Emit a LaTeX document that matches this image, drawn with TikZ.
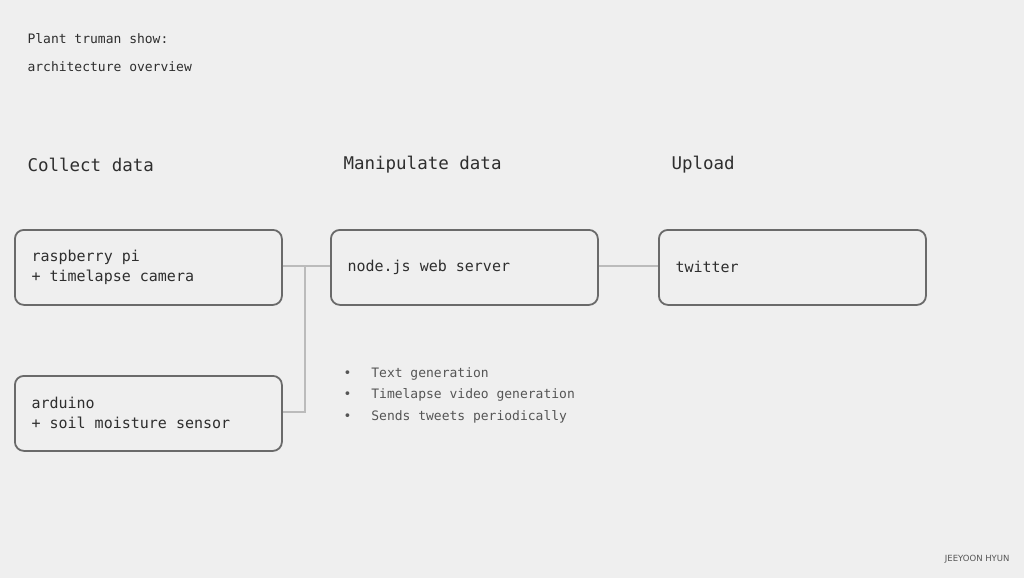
\documentclass[tikz,border=0pt]{standalone}
\usepackage{fontspec}
\setmonofont{DejaVu Sans Mono}
\setsansfont{DejaVu Sans}
\definecolor{bg}{HTML}{EFEFEF}
\definecolor{bord}{HTML}{6A6A6A}
\definecolor{conn}{HTML}{BBBBBB}
\definecolor{txt}{HTML}{2E2E2E}
\definecolor{txt2}{HTML}{555555}
\begin{document}
\begin{tikzpicture}[x=1pt,y=-1pt,
  box/.style={draw=bord,line width=1.8pt,rounded corners=9pt,fill=bg,minimum width=267pt,minimum height=75pt,anchor=north west,inner sep=0pt},
  btxt/.style={font=\ttfamily\fontsize{15}{20}\selectfont,text=txt,anchor=west,align=left},
  conn/.style={draw=conn,line width=2.5pt}]
\fill[bg] (0,0) rectangle (1024,578);
\useasboundingbox (0,0) rectangle (1024,578);
\node[anchor=west,font=\ttfamily\fontsize{13}{16}\selectfont,text=txt] (t1) at (24,39) {Plant truman show:};
\node[anchor=west,font=\ttfamily\fontsize{13}{16}\selectfont,text=txt] (t2) at (24,67) {architecture overview};
\node[anchor=west,font=\ttfamily\fontsize{17.5}{20}\selectfont,text=txt] (h1) at (24,165) {Collect data};
\node[anchor=west,font=\ttfamily\fontsize{17.5}{20}\selectfont,text=txt] (h2) at (340,165) {Manipulate data};
\node[anchor=west,font=\ttfamily\fontsize{17.5}{20}\selectfont,text=txt] (h3) at (668,165) {Upload};
\node[box] (b1) at (14,229) {};
\node[box] (b2) at (330,229) {};
\node[box] (b3) at (658,229) {};
\node[box] (b4) at (14,375) {};
\node[btxt] at (28,267) {raspberry pi\\+ timelapse camera};
\node[btxt] at (344,267) {node.js web server};
\node[btxt] at (672,267) {twitter};
\node[btxt] at (28,413) {arduino\\+ soil moisture sensor};
\coordinate (j) at (305,266);
\coordinate (k) at (305,412);
\draw[conn] (b1.east |- j) -- (b2.west |- j);
\draw[conn] (j) -- (k) -- (b4.east |- k);
\draw[conn] (b2.east |- j) -- (b3.west |- j);
\node[anchor=west,font=\ttfamily\fontsize{13}{21.5}\selectfont,text=txt2,align=left] (bl) at (340,395) {•\hspace{20pt}Text generation\\•\hspace{20pt}Timelapse video generation\\•\hspace{20pt}Sends tweets periodically};
\node[anchor=east,font=\sffamily\fontsize{8.5}{10}\selectfont,text=txt2] (ft) at (1013,559) {JEEYOON HYUN};
\end{tikzpicture}
\end{document}
